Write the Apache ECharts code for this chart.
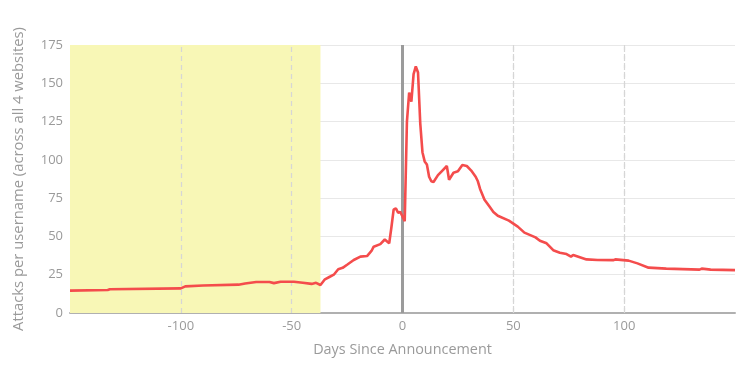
<!DOCTYPE html>
<html>
<head>
<meta charset="utf-8">
<script src="https://cdn.jsdelivr.net/npm/echarts@6/dist/echarts.min.js"></script>
<style>html,body{margin:0;padding:0;background:#fff}#c{width:750px;height:375px}</style>
</head>
<body>
<div id="c"></div>
<script>
const days = [-150,-133,-132,-100,-98,-90,-74,-71,-66,-60,-58,-55,-49,-45,-41,-39,-37,-35,-33,-31,-29,-27,-25,-22,-19,-16,-14,-13,-10,-8,-6,-5,-4,-3,-2,-1,0,1,2,3,4,5,6,7,8,9,10,11,12,13,14,16,18,20,21,23,25,27,29,31,33,34,35,37,39,41,43,48,52,55,60,62,65,68,71,74,76,77,83,88,95,96,102,106,111,119,134,135,139,150];
const attacks = [14.6,15.0,15.5,16.1,17.4,18.0,18.5,19.3,20.2,20.2,19.5,20.4,20.4,19.8,19.0,19.7,18.3,22.0,23.5,25.0,28.6,29.5,31.5,34.6,36.8,37.2,40.5,43.3,45.0,48.0,45.5,56.0,67.5,68.4,65.5,66.0,63.0,60.0,125,144,138,156,161,157,124,105,99,97,89,86,85.5,90,93,96,87,91.6,92.5,96.6,96,93,89,86,81,74,70,66,63.5,60.3,56.4,52.5,49.4,47.2,45.5,41,39.4,38.5,36.8,37.9,35,34.6,34.5,35,34.2,32.4,29.6,29,28.3,29,28.3,28];
const xTicks = [-100,-50,50,100];
const shadeRange = [-150,-37];
const announcementDay = 0;

const chart = echarts.init(document.getElementById('c'));
const font = '"Open Sans", Lato, sans-serif';
chart.setOption({
  animation: false,
  grid: {left: 70, right: 15, top: 45, bottom: 62},
  xAxis: {
    type: 'value', min: -150, max: 150, interval: 50,
    name: 'Days Since Announcement', nameLocation: 'middle', nameGap: 30,
    nameTextStyle: {color: '#9a9a9a', fontSize: 14.4, fontFamily: font},
    axisLine: {lineStyle: {color: '#b0b0b0', width: 2}},
    axisTick: {show: false},
    axisLabel: {color: '#9a9a9a', fontSize: 13, fontFamily: font, margin: 7, showMinLabel: false, showMaxLabel: false},
    splitLine: {show: true, showMinLine: false, showMaxLine: false, lineStyle: {color: '#d6d6d6', type: [5, 4], width: 1.2}}
  },
  yAxis: {
    type: 'value', min: 0, max: 175, interval: 25,
    name: 'Attacks per username (across all 4 websites)', nameLocation: 'middle', nameGap: 44, nameRotate: 90,
    nameTextStyle: {color: '#9a9a9a', fontSize: 14.8, fontFamily: font},
    axisLine: {show: false}, axisTick: {show: false},
    axisLabel: {color: '#9a9a9a', fontSize: 13, fontFamily: font, margin: 7},
    splitLine: {lineStyle: {color: '#e8e8e8', width: 1}}
  },
  series: [{
    type: 'line',
    data: days.map((d, i) => [d, attacks[i]]),
    showSymbol: false,
    lineStyle: {color: '#f44c4c', width: 2.6},
    z: 5,
    markArea: {
      silent: true,
      itemStyle: {color: '#f8f7b6'},
      data: [[{xAxis: shadeRange[0]}, {xAxis: shadeRange[1]}]]
    },
    markLine: {
      silent: true, symbol: 'none', label: {show: false},
      data: xTicks.map(t => ({xAxis: t, lineStyle: {color: '#d6d6d6', type: [5, 4], width: 1.2}}))
        .concat([{xAxis: announcementDay, lineStyle: {color: '#9b9b9b', type: 'solid', width: 3}}])
    }
  }]
});
</script>
</body>
</html>
